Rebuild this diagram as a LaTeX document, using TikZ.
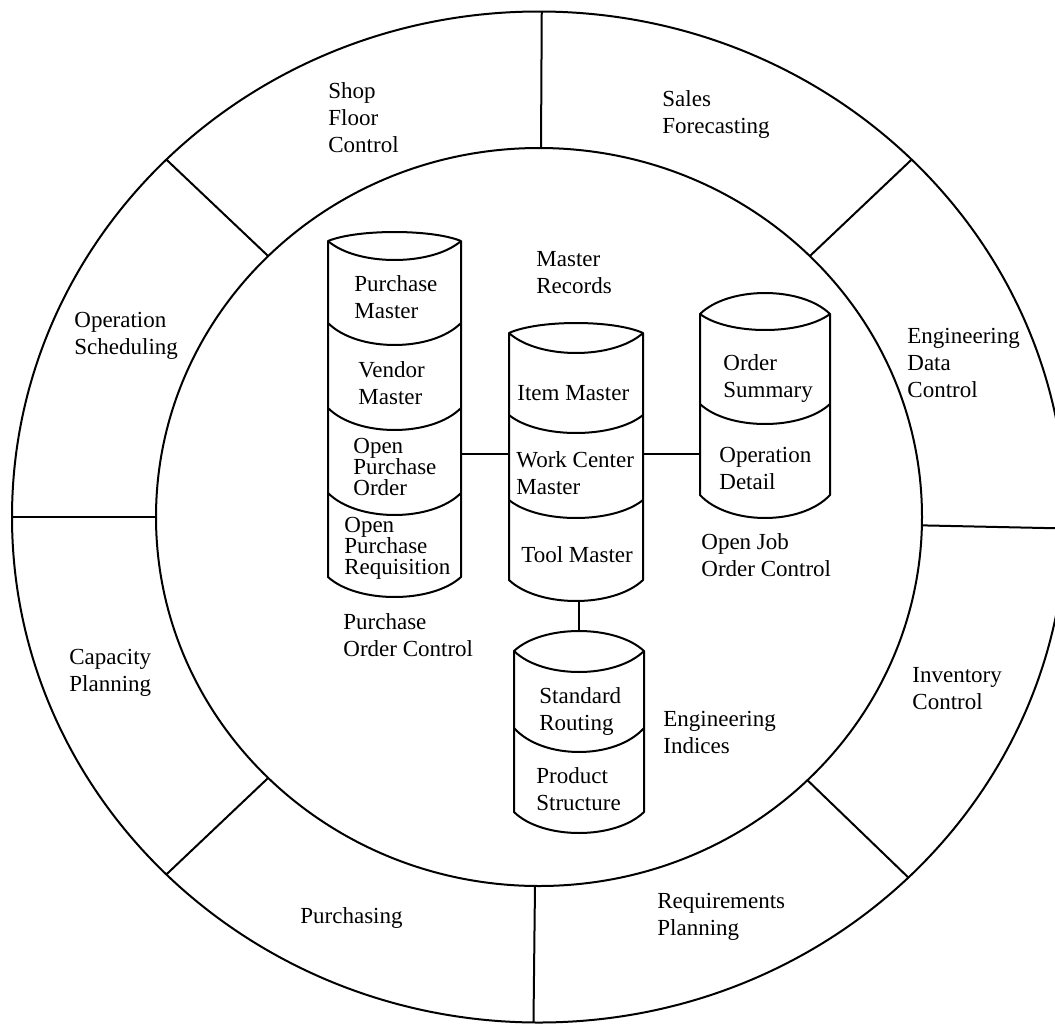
\documentclass[tikz,border=0pt]{standalone}
\usepackage{fontspec}
\setmainfont{Liberation Serif}
\usetikzlibrary{fit}

% one bulging arc of a data-base cylinder: x-left, x-right, y, sag (px, + = down)
\newcommand{\sag}[4]{%
  \draw[cyl] (#1,#3) .. controls ({#1+0.22*(#2-#1)},{#3+1.333*(#4)})
    and ({#2-0.22*(#2-#1)},{#3+1.333*(#4)}) .. (#2,#3);}
% outline of a cylinder: x-left, x-right, y-top, y-bottom, top rise, bottom sag
\newcommand{\dbcyl}[6]{%
  \draw[cyl] (#1,#3) .. controls ({#1+0.22*(#2-#1)},{#3-1.333*(#5)})
      and ({#2-0.22*(#2-#1)},{#3-1.333*(#5)}) .. (#2,#3)
    -- (#2,#4) .. controls ({#2-0.22*(#2-#1)},{#4+1.333*(#6)})
      and ({#1+0.22*(#2-#1)},{#4+1.333*(#6)}) .. (#1,#4) -- cycle;}

\begin{document}
\lineskiplimit=-100pt
% label nodes are placed by the baseline of their last line
\begin{tikzpicture}[x=0.5pt,y=-0.5pt,
  ring/.style={line width=1pt},
  cyl/.style={line width=1pt, line join=round},
  link/.style={line width=1pt},
  lbl/.style={anchor=base west, inner sep=0pt, align=left,
    font=\fontsize{11.5}{13.5}\selectfont},
  tight/.style={font=\fontsize{11.5}{10.4}\selectfont},
  body/.style={inner sep=0pt, draw=none}]

\useasboundingbox (0,0) rectangle (1055,1023);

% ---- the two rings and the eight spokes ----
\draw[ring] (539,517) ellipse [x radius=263.5pt, y radius=252.75pt];
\draw[ring] (539,517) ellipse [x radius=191.5pt, y radius=184.5pt];
\foreach \a in {89.7,45,-1.3,-45.5,-90.6,-135,180,135}
  \draw[ring] ({539+383*cos(\a)},{517-369*sin(\a)})
           -- ({539+527*cos(\a)},{517-505.5*sin(\a)});

% ---- application areas around the ring ----
\node[lbl] (shop)  at (328,152) {Shop\\Floor\\Control};
\node[lbl] (sales) at (662,133) {Sales\\Forecasting};
\node[lbl] (opsch) at (74,354)  {Operation\\Scheduling};
\node[lbl] (engdc) at (907,397) {Engineering\\Data\\Control};
\node[lbl] (capp)  at (69,691)  {Capacity\\Planning};
\node[lbl] (invc)  at (912,709) {Inventory\\Control};
\node[lbl] (purch) at (300,923) {Purchasing};
\node[lbl] (reqp)  at (657,935) {Requirements\\Planning};

% ---- purchase order control cylinder ----
\dbcyl{328}{461}{241}{577}{9}{20}
\sag{328}{461}{241}{19}
\sag{328}{461}{323}{22}
\sag{328}{461}{408}{22}
\sag{328}{461}{493}{22}
\node[body, fit={(328,232) (461,597)}] (pocyl) {};
\node[lbl] (pm)  at (354,318) {Purchase\\Master};
\node[lbl] (vm)  at (358,404) {Vendor\\Master};
\node[lbl,tight] (opo) at (353,495) {Open\\Purchase\\Order};
\node[lbl,tight] (opr) at (344,574) {Open\\Purchase\\Requisition};
\node[lbl] (poc) at (343,656) {Purchase\\Order Control};

% ---- master records cylinder ----
\dbcyl{509}{643}{333}{580}{10}{21}
\sag{509}{643}{333}{20}
\sag{509}{643}{415}{18}
\sag{509}{643}{500}{18}
\node[body, fit={(509,323) (643,601)}] (mrcyl) {};
\node[lbl] (mrec) at (536,293) {Master\\Records};
\node[lbl] (im)  at (517,400) {Item Master};
\node[lbl] (wcm) at (516,494) {Work Center\\Master};
\node[lbl] (tm)  at (521,562) {Tool Master};

% ---- open job order control cylinder ----
\dbcyl{700}{830}{314}{495}{21}{23}
\sag{700}{830}{314}{16}
\sag{700}{830}{404}{20}
\node[body, fit={(700,293) (830,518)}] (ojcyl) {};
\node[lbl] (os)   at (723,397) {Order\\Summary};
\node[lbl] (od)   at (719,489) {Operation\\Detail};
\node[lbl] (ojoc) at (701,576) {Open Job\\Order Control};

% ---- engineering indices cylinder ----
\dbcyl{514}{644}{651}{812}{20}{21}
\sag{514}{644}{651}{21}
\sag{514}{644}{728}{24}
\node[body, fit={(514,631) (644,833)}] (eicyl) {};
\node[lbl] (sr)  at (539,730) {Standard\\Routing};
\node[lbl] (ps)  at (536,810) {Product\\Structure};
\node[lbl] (ei)  at (663,753) {Engineering\\Indices};

% ---- links between the files ----
\coordinate (linky) at (0,454);
\draw[link] (pocyl.east |- linky) -- (mrcyl.west |- linky);
\draw[link] (mrcyl.east |- linky) -- (ojcyl.west |- linky);
\draw[link] (eicyl.north) -- (eicyl.north |- mrcyl.south);
\end{tikzpicture}
\end{document}
